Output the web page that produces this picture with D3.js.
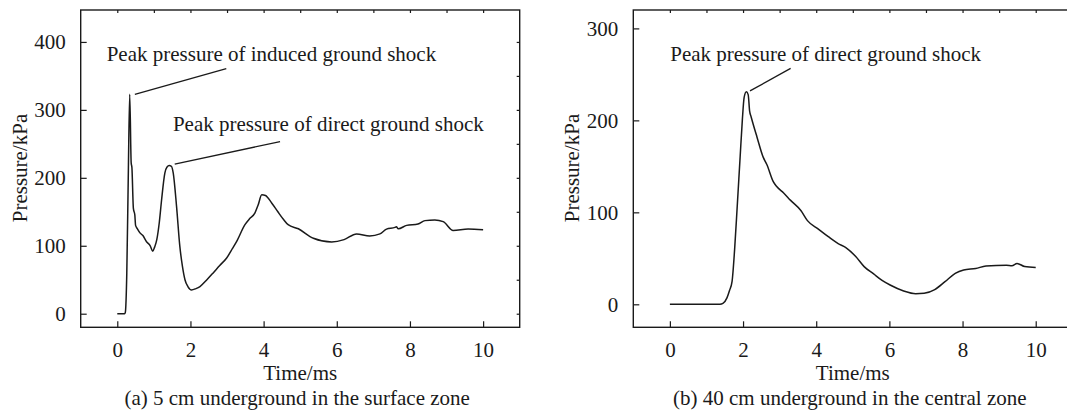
<!DOCTYPE html>
<html>
<head>
<meta charset="utf-8">
<script src="https://cdn.jsdelivr.net/npm/d3@7"></script>
<style>
  body { margin: 0; background: #fff; }
  svg { display: block; }
  svg text { font-family: "Liberation Serif", "Times New Roman", serif; font-size: 21px; fill: #1a1a1a; }
</style>
</head>
<body>
<div id="chart"></div>
<script>
// time (ms) and pressure (kPa)
const surfaceTime = [0, 0.2, 0.22, 0.26, 0.3, 0.34, 0.38, 0.4, 0.44, 0.48, 0.5, 0.55, 0.62, 0.7, 0.8, 0.9, 0.97,
  1.02, 1.08, 1.15, 1.21, 1.3, 1.36, 1.42, 1.48, 1.53, 1.62, 1.71, 1.78, 1.85, 1.93, 2.03, 2.15, 2.26, 2.45,
  2.62, 2.8, 2.99, 3.15, 3.26, 3.49, 3.62, 3.76, 3.85, 3.95, 4.05, 4.22, 4.39, 4.54, 4.67, 4.95, 5.36, 5.86,
  6.2, 6.54, 6.9, 7.18, 7.36, 7.59, 7.63, 7.68, 7.91, 8.22, 8.41, 8.68, 8.91, 9.18, 9.59, 10];
const surfacePressure = [0, 0, 2, 60, 200, 323, 222, 215, 155, 145, 130, 125, 119, 115, 106, 100, 92,
  98, 109, 135, 167, 207, 216, 218, 217, 207, 158, 99, 70, 50, 40, 35, 37, 40, 50,
  60, 71, 82, 96, 106, 131, 140, 148, 160, 175, 174, 163, 150, 139, 131, 125, 111, 105.5,
  109, 117.5, 114.5, 117.5, 124.5, 127, 128, 125, 130, 132, 137, 138, 135.5, 122.5, 124.5, 123.5];

const centralTime = [0, 1.37, 1.45, 1.56, 1.63, 1.7, 1.77, 1.84, 1.92, 1.98, 2.03, 2.09, 2.14, 2.18, 2.22,
  2.38, 2.55, 2.65, 2.83, 2.92, 3.11, 3.3, 3.58, 3.76, 4.05, 4.33, 4.6, 4.8, 5.08, 5.31, 5.57, 5.8, 6.02,
  6.39, 6.72, 6.95, 7.24, 7.52, 7.8, 8.03, 8.36, 8.64, 9.2, 9.35, 9.49, 9.7, 10];
const centralPressure = [0, 0, 1, 7, 15, 25, 60, 106, 160, 200, 225, 231, 228, 210, 204,
  182, 160, 152, 133, 128, 121, 113, 102, 91, 82, 73.5, 66, 62, 52, 41, 33, 26, 21,
  14.5, 11.5, 12, 16, 24.6, 33.7, 37.3, 39, 41.6, 42.5, 42, 44.5, 41, 40];

const timeTicks = [0, 2, 4, 6, 8, 10];
const surfaceTicks = [0, 100, 200, 300, 400];
const centralTicks = [0, 100, 200, 300];

// annotation: text anchor point and leader line, in data units
const surfaceNotes = [
  { text: "Peak pressure of induced ground shock", tx: -0.29, ty: 372, x1: 0.48, y1: 323, x2: 2.98, y2: 360.7 },
  { text: "Peak pressure of direct ground shock", tx: 1.52, ty: 269.6, x1: 1.57, y1: 220, x2: 4.45, y2: 253.4 }
];
const centralNotes = [
  { text: "Peak pressure of direct ground shock", tx: 0.01, ty: 264.5, x1: 2.19, y1: 232, x2: 3.3, y2: 256.5 }
];

const width = 1067, height = 417;
const svg = d3.select("#chart").append("svg")
  .attr("width", width)
  .attr("height", height)
  .attr("viewBox", [0, 0, width, height]);

// d3 axes put font attributes on their group; drop them so the css serif applies
const plain = a => a.attr("font-family", null).attr("font-size", null)
  .call(s => s.select(".domain").remove());

function panel(opt) {
  const x = d3.scaleLinear().domain([-1, 11]).range([opt.left, opt.left + 439]);
  const y = d3.scaleLinear().domain(opt.yDomain).range([327.3, 10]);
  const g = svg.append("g");
  const ink = "#1a1a1a";

  // inward major ticks with labels
  g.append("g")
    .attr("transform", `translate(${x.range()[0]},0)`)
    .call(d3.axisLeft(y).tickValues(opt.yTicks).tickSize(-6).tickPadding(15))
    .call(plain);
  g.append("g")
    .attr("transform", `translate(0,${y.range()[0]})`)
    .call(d3.axisBottom(x).tickValues(timeTicks).tickSize(-6).tickPadding(15))
    .call(plain);
  // small ticks on the top and right edges
  g.append("g")
    .attr("transform", `translate(0,${y.range()[1]})`)
    .call(d3.axisTop(x).tickValues(d3.range(0, 11, 1)).tickSize(-3).tickFormat(""))
    .call(plain);
  g.append("g")
    .attr("transform", `translate(${x.range()[1]},0)`)
    .call(d3.axisRight(y).tickValues(d3.range(0, opt.yDomain[1], 50)).tickSize(-3).tickFormat(""))
    .call(plain);

  g.selectAll(".tick line").attr("stroke", ink).attr("stroke-width", 1.2);
  g.selectAll(".tick text").attr("fill", null);

  g.append("rect")
    .attr("x", x.range()[0]).attr("y", y.range()[1])
    .attr("width", x.range()[1] - x.range()[0])
    .attr("height", y.range()[0] - y.range()[1])
    .attr("fill", "none").attr("stroke", ink).attr("stroke-width", 1.4);

  const line = d3.line()
    .x(i => x(opt.time[i]))
    .y(i => y(opt.pressure[i]))
    .curve(d3.curveMonotoneX);
  g.append("path")
    .attr("d", line(d3.range(opt.time.length)))
    .attr("fill", "none")
    .attr("stroke", ink)
    .attr("stroke-width", 1.5)
    .attr("stroke-linejoin", "round");

  opt.notes.forEach(n => {
    g.append("line")
      .attr("x1", x(n.x1)).attr("y1", y(n.y1))
      .attr("x2", x(n.x2)).attr("y2", y(n.y2))
      .attr("stroke", ink).attr("stroke-width", 1.3);
    g.append("text")
      .attr("x", x(n.tx)).attr("y", y(n.ty))
      .text(n.text);
  });

  const cx = (x.range()[0] + x.range()[1]) / 2;
  g.append("text")
    .attr("x", cx).attr("y", 380)
    .attr("text-anchor", "middle")
    .text("Time/ms");
  g.append("text")
    .attr("x", cx - 3).attr("y", 405)
    .attr("text-anchor", "middle")
    .text(opt.caption);
  g.append("text")
    .attr("transform", `translate(${opt.left - 54},168) rotate(-90)`)
    .attr("text-anchor", "middle")
    .text("Pressure/kPa");
}

panel({
  left: 80.7, yDomain: [-20, 447], yTicks: surfaceTicks,
  time: surfaceTime, pressure: surfacePressure, notes: surfaceNotes,
  caption: "(a) 5 cm underground in the surface zone"
});
panel({
  left: 633.3, yDomain: [-25, 320], yTicks: centralTicks,
  time: centralTime, pressure: centralPressure, notes: centralNotes,
  caption: "(b) 40 cm underground in the central zone"
});
</script>
</body>
</html>
